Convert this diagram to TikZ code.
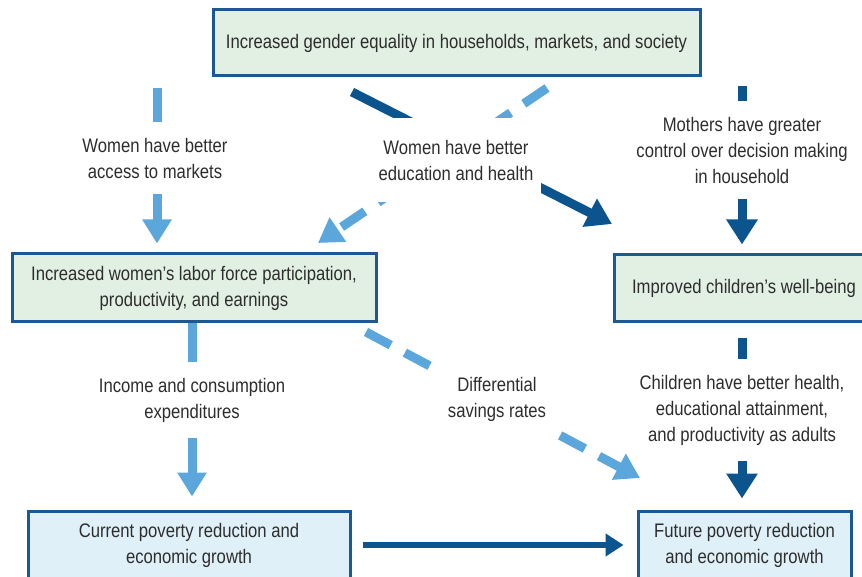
\documentclass[tikz,border=0pt]{standalone}
\usepackage{fontspec}
\setmainfont[FakeStretch=0.85]{Liberation Sans}
\usetikzlibrary{arrows.meta}
\definecolor{boxblue}{RGB}{28,88,148}
\definecolor{boxgreen}{RGB}{226,240,228}
\definecolor{boxcyan}{RGB}{223,240,249}
\definecolor{arrowdark}{RGB}{12,84,142}
\definecolor{arrowlight}{RGB}{91,167,220}
\definecolor{textgray}{RGB}{45,45,45}
\tikzset{
        box/.style={draw=boxblue, line width=1.5pt, text=textgray, align=center, inner sep=0pt},
        greenbox/.style={box, fill=boxgreen},
        cyanbox/.style={box, fill=boxcyan},
        lbl/.style={fill=white, text=textgray, align=center, inner xsep=4pt, inner ysep=8pt},
        darkarrow/.style={draw=arrowdark, line width=4.5pt, -{Triangle[width=15pt,length=12.5pt]}},
        lightarrow/.style={draw=arrowlight, line width=4.5pt, -{Triangle[width=14pt,length=12pt]}},
        dasharrow/.style={lightarrow, dash pattern=on 14pt off 8pt},
        flatarrow/.style={draw=arrowdark, line width=3pt, -{Triangle[width=11pt,length=9pt]}}
          }

\begin{document}
\begin{tikzpicture}[x=0.5pt, y=-0.5pt, font=\fontsize{9.8pt}{13pt}\selectfont]
        \useasboundingbox (0,0) rectangle (862,577);
        % boxes
        \node[greenbox, minimum width=243.5pt, minimum height=33pt] (equality) at (456.5,43)
          {Increased gender equality in households, markets, and society};
        \node[greenbox, minimum width=182pt, minimum height=34pt] (labor) at (194,288)
          {Increased women’s labor force participation,\\productivity, and earnings};
        \node[greenbox, minimum width=130pt, minimum height=33.5pt] (children) at (744,288.5)
          {Improved children’s well-being};
        \node[cyanbox, minimum width=161pt, minimum height=34pt] (current) at (189,545)
          {Current poverty reduction and\\economic growth};
        \node[cyanbox, minimum width=106.5pt, minimum height=34pt] (future) at (744.5,545)
          {Future poverty reduction\\and economic growth};
        % loose ends
        \coordinate (markets) at (157,88);
        \coordinate (school) at (352,92);
        \coordinate (schoolend) at (612,224);
        \coordinate (health) at (547,88);
        \coordinate (healthend) at (318,243);
        \coordinate (mothers) at (742,86);
        \coordinate (savings) at (366,332);
        \coordinate (savingsend) at (640,478);
        % arrows
        \draw[lightarrow, shorten >=4.5pt] (markets) -- (markets |- labor.north);
        \draw[darkarrow] (school) -- (schoolend);
        \draw[dasharrow] (health) -- (healthend);
        \draw[darkarrow, shorten >=4.5pt] (mothers) -- (mothers |- children.north);
        \draw[lightarrow, shorten >=6.5pt] (labor.south -| 192,0) -- (current.north -| 192,0);
        \draw[dasharrow] (savings) -- (savingsend);
        \draw[darkarrow, shorten <=7pt, shorten >=5.5pt] (children.south -| 742,0) -- (future.north -| 742,0);
        \draw[flatarrow, shorten <=5.5pt, shorten >=6.5pt] (current) -- (future);
        % labels
        \node[lbl] (accesslbl) at (155,158) {Women have better\\access to markets};
        \node[lbl, inner ysep=11pt] (schoollbl) at (456,160) {Women have better\\education and health};
        \node[lbl] (motherslbl) at (742,150) {Mothers have greater\\control over decision making\\in household};
        \node[lbl] (incomelbl) at (192,400) {Income and consumption\\expenditures};
        \node[lbl] (savingslbl) at (497,399) {Differential\\savings rates};
        \node[lbl] (adultslbl) at (742,410) {Children have better health,\\educational attainment,\\and productivity as adults};
      \end{tikzpicture}
\end{document}
